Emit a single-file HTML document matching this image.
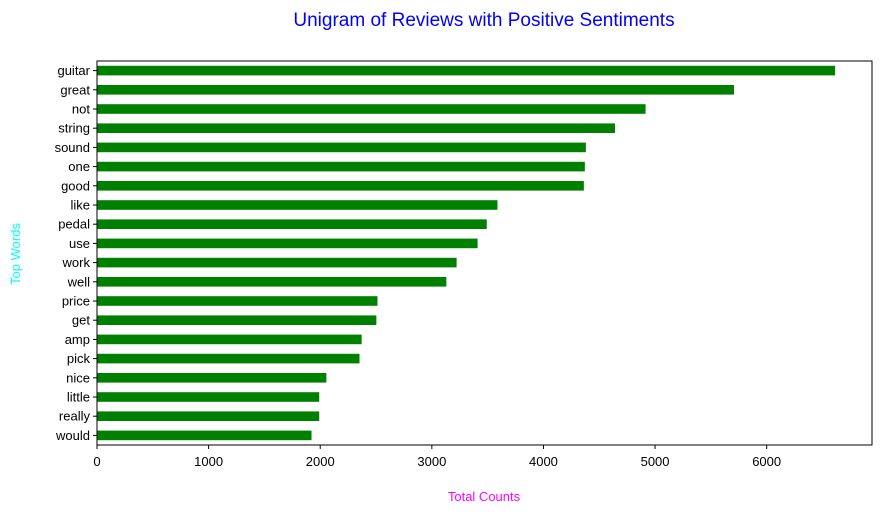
<!DOCTYPE html>
<html><head><meta charset="utf-8"><style>
body{margin:0;background:#fff;}
svg{display:block;font-family:"Liberation Sans","DejaVu Sans",sans-serif;}
</style></head><body>
<svg id="chart" width="881" height="514">
<text x="484" y="26" text-anchor="middle" font-size="19" fill="#0000ff">Unigram of Reviews with Positive Sentiments</text>
<text x="484" y="501" text-anchor="middle" font-size="13" fill="#ff00ff">Total Counts</text>
<text transform="translate(20,254) rotate(-90)" text-anchor="middle" font-size="13" fill="#00ffff">Top Words</text>
<g id="bars"></g><g id="yt"></g><g id="xt"></g>
<rect x="97" y="61" width="775" height="384" fill="none" stroke="#000" stroke-width="1"/>
</svg>
<script>
const categories=["guitar","great","not","string","sound","one","good","like","pedal","use","work","well","price","get","amp","pick","nice","little","really","would"];
const values=[6613,5707,4915,4641,4380,4371,4362,3588,3492,3410,3222,3130,2513,2503,2371,2352,2055,1991,1991,1922];
const xTicks=[0,1000,2000,3000,4000,5000,6000];
const L=97,R=872,T=61,B=445;
const xMax=Math.max(...values)*1.05;
const xs=v=>L+v/xMax*(R-L);
const step=(B-T)/categories.length;
const yc=i=>T+step*(i+0.5);
const NS="http://www.w3.org/2000/svg";
const bars=document.getElementById('bars'),yt=document.getElementById('yt'),xt=document.getElementById('xt');
function mk(tag,attrs,parent){const e=document.createElementNS(NS,tag);for(const k in attrs)e.setAttribute(k,attrs[k]);parent.appendChild(e);return e;}
categories.forEach((c,i)=>{
 const r=mk('rect',{x:xs(0),y:yc(i)-step*0.25,width:xs(values[i])-xs(0),height:step*0.5,fill:'#008000'},bars);
 
 
 mk('line',{x1:L-4,x2:L,y1:yc(i),y2:yc(i),stroke:'#000'},yt);
 const t=mk('text',{x:L-7,y:yc(i)+4.5,'text-anchor':'end','font-size':'13',fill:'#000'},yt);
 t.textContent=c;
 
 
});
xTicks.forEach(v=>{
 mk('line',{x1:xs(v),x2:xs(v),y1:B,y2:B+4,stroke:'#000'},xt);
 const t=mk('text',{x:xs(v),y:B+21,'text-anchor':'middle','font-size':'13',fill:'#000'},xt);
 t.textContent=v;
 
 
});
</script>
</body></html>
